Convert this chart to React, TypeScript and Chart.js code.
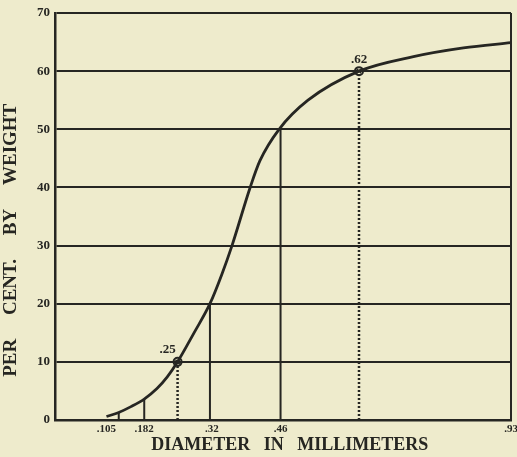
import React, { useEffect, useRef } from "react";
import { Chart, registerables } from "chart.js";

Chart.register(...registerables);

// Cumulative curve: diameter (mm) vs per cent by weight
const curveX = [0.105, 0.13, 0.155, 0.182, 0.208, 0.229, 0.25, 0.283, 0.316, 0.34, 0.361, 0.398, 0.418, 0.457, 0.516, 0.62, 0.731, 0.833, 0.93];
const curveY = [0.6, 1.3, 2.3, 3.6, 5.4, 7.4, 10, 14.9, 20, 25, 30, 40, 44.6, 50, 55, 60, 62.5, 64, 64.9];

// Marked points
const markerX = [0.25, 0.62];
const markerY = [10, 60];
const markerLabels = [".25", ".62"];

// Drop lines from the curve to the axis
const solidDropX = [0.13, 0.182, 0.316, 0.46];
const solidDropY = [1.3, 3.6, 20, 50.3];
const dottedDropX = [0.25, 0.62];
const dottedDropY = [10, 60];

// Axis ticks
const xTickValues = [0.105, 0.182, 0.32, 0.46, 0.93];
const xTickLabels = [".105", ".182", ".32", ".46", ".93"];
const yTickValues = [0, 10, 20, 30, 40, 50, 60, 70];

const INK = "#262622";
const PAPER = "#eeebcc";

export default function App() {
  const ref = useRef<HTMLCanvasElement | null>(null);

  useEffect(() => {
    document.body.style.margin = "0";
    document.body.style.background = PAPER;
    const canvas = ref.current;
    if (!canvas) return;

    const dropSets: any[] = [];
    solidDropX.forEach((x, i) => {
      dropSets.push({
        type: "line",
        data: [
          { x, y: 0 },
          { x, y: solidDropY[i] },
        ],
        borderColor: INK,
        borderWidth: 2,
        pointRadius: 0,
        tension: 0,
      });
    });
    dottedDropX.forEach((x, i) => {
      dropSets.push({
        type: "line",
        data: [
          { x, y: 0 },
          { x, y: dottedDropY[i] },
        ],
        borderColor: INK,
        borderWidth: 2.5,
        borderDash: [2, 2],
        pointRadius: 0,
        tension: 0,
      });
    });

    const labelPlugin = {
      id: "markerLabels",
      afterDatasetsDraw(chart: any) {
        const { ctx, scales } = chart;
        ctx.save();
        ctx.fillStyle = INK;
        ctx.font = "bold 13px 'Liberation Serif'";
        ctx.textAlign = "center";
        ctx.textBaseline = "middle";
        markerX.forEach((x, i) => {
          const px = scales.x.getPixelForValue(x);
          const py = scales.y.getPixelForValue(markerY[i]);
          const dx = i === 0 ? -10 : 0;
          ctx.fillText(markerLabels[i], px + dx, py - 12);
        });
        ctx.restore();
      },
    };

    const bgPlugin = {
      id: "paper",
      beforeDraw(chart: any) {
        const { ctx, width, height } = chart;
        ctx.save();
        ctx.fillStyle = PAPER;
        ctx.fillRect(0, 0, width, height);
        ctx.restore();
      },
    };

    const chart = new Chart(canvas, {
      type: "line",
      data: {
        datasets: [
          {
            data: curveX.map((x, i) => ({ x, y: curveY[i] })),
            borderColor: INK,
            borderWidth: 2.8,
            pointRadius: 0,
            cubicInterpolationMode: "monotone",
          },
          {
            data: markerX.map((x, i) => ({ x, y: markerY[i] })),
            showLine: false,
            pointStyle: "circle",
            pointRadius: 4,
            pointBorderWidth: 2,
            pointBorderColor: INK,
            pointBackgroundColor: "rgba(0,0,0,0)",
          },
          {
            data: markerX.map((x, i) => ({ x, y: markerY[i] })),
            showLine: false,
            pointStyle: "crossRot",
            pointRadius: 3,
            pointBorderWidth: 1.5,
            pointBorderColor: INK,
          },
          ...dropSets,
        ],
      } as any,
      options: {
        animation: false,
        responsive: true,
        maintainAspectRatio: false,
        layout: { padding: { top: 13, right: 5, left: 0, bottom: 0 } },
        plugins: {
          legend: { display: false },
          tooltip: { enabled: false },
        },
        scales: {
          x: {
            type: "linear",
            min: 0,
            max: 0.93,
            afterBuildTicks(scale: any) {
              scale.ticks = xTickValues.map((v) => ({ value: v }));
            },
            afterFit(scale: any) {
              scale.height = 37;
              scale.paddingRight = 0;
              scale.paddingLeft = 0;
            },
            ticks: {
              autoSkip: false,
              maxRotation: 0,
              padding: 3,
              color: INK,
              font: { family: "'Liberation Serif'", size: 11, weight: "bold" },
              callback: (v: any) => {
                const idx = xTickValues.indexOf(Number(v));
                return idx >= 0 ? xTickLabels[idx] : "";
              },
            },
            grid: {
              drawTicks: false,
              lineWidth: 2,
              color: (c: any) => (c.tick && c.tick.value === 0.93 ? INK : "rgba(0,0,0,0)"),
            },
            border: { display: true, color: INK, width: 2.5 },
            title: {
              display: true,
              text: "   DIAMETER   IN   MILLIMETERS",
              color: INK,
              font: { family: "'Liberation Serif'", size: 18, weight: "bold" },
              padding: { top: 0, bottom: 1 },
            },
          },
          y: {
            type: "linear",
            min: 0,
            max: 70,
            afterBuildTicks(scale: any) {
              scale.ticks = yTickValues.map((v) => ({ value: v }));
            },
            afterFit(scale: any) {
              scale.width = 55;
            },
            ticks: {
              padding: 5,
              color: INK,
              font: { family: "'Liberation Serif'", size: 13, weight: "bold" },
            },
            grid: {
              drawTicks: false,
              lineWidth: 2,
              color: INK,
            },
            border: { display: true, color: INK, width: 2.5 },
            title: {
              display: true,
              text: "PER     CENT.     BY     WEIGHT          ",
              color: INK,
              font: { family: "'Liberation Serif'", size: 19, weight: "bold" },
              padding: { top: 0, bottom: 2 },
            },
          },
        },
      } as any,
      plugins: [bgPlugin, labelPlugin],
    });

    return () => chart.destroy();
  }, []);

  return (
    <div style={{ position: "absolute", left: 0, top: 0, width: 517, height: 457 }}>
      <canvas ref={ref} />
    </div>
  );
}
